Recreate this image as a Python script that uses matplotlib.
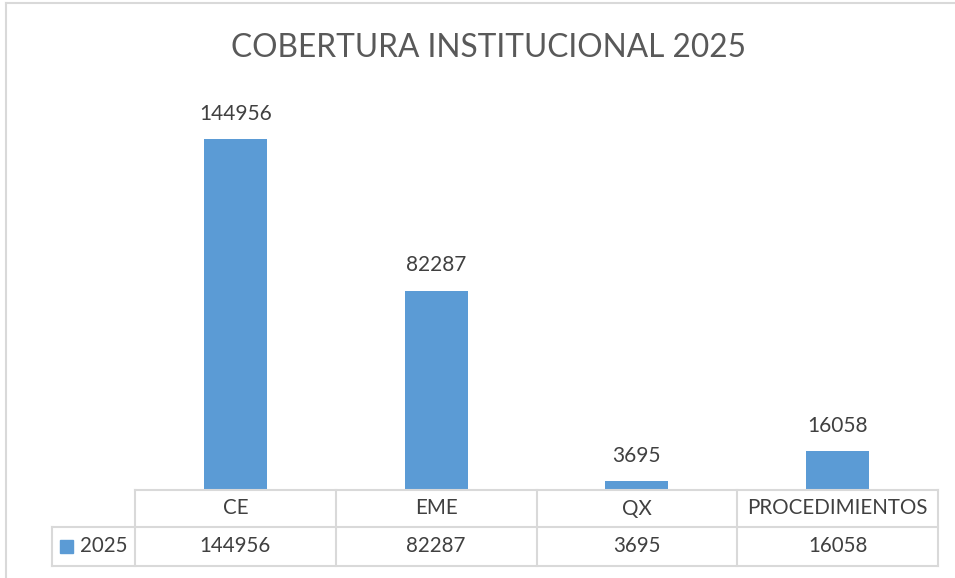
import matplotlib.pyplot as plt
from matplotlib.lines import Line2D
from matplotlib.patches import Rectangle

categories = ["CE", "EME", "QX", "PROCEDIMIENTOS"]
values = [144956, 82287, 3695, 16058]
series_name = "2025"
title = "COBERTURA INSTITUCIONAL 2025"

bar_color = "#5b9bd5"
text_color = "#404040"
grid_color = "#d9d9d9"

plt.rcParams["font.family"] = ["Lato", "DejaVu Sans"]

W, H = 955, 578
fig = plt.figure(figsize=(W / 100, H / 100), dpi=100)

# plot area in pixels: x 135..938, y 102.6..490 (from top)
ax = fig.add_axes([135 / W, 1 - 490 / H, (938 - 135) / W, (490 - 102.6) / H])
ax.set_xlim(-0.5, len(categories) - 0.5)
ax.set_ylim(0, 160000)
xs = range(len(categories))
ax.bar(xs, values, width=0.314, color=bar_color)
for x, v in zip(xs, values):
    ax.annotate(str(v), (x, v), xytext=(0, 11), textcoords="offset points",
                ha="center", va="bottom", fontsize=15, color=text_color)
ax.axis("off")

fig.text(488 / W, 1 - 48 / H, title, ha="center", va="center",
         fontsize=22.8, color="#595959")

# chart border (left and top only visible)
fig.add_artist(Line2D([6 / W, 6 / W], [0, 1 - 3 / H], transform=fig.transFigure,
                      color=grid_color, lw=1.5))
fig.add_artist(Line2D([6 / W, 1], [1 - 3 / H, 1 - 3 / H], transform=fig.transFigure,
                      color=grid_color, lw=1.5))

# data table below the axis
tr = ax.get_xaxis_transform()
ax_h = 490 - 102.6
r1 = -37 / ax_h
r2 = -76 / ax_h
left = -0.5 - 83 / 200.75
n = len(categories)
kw = dict(transform=tr, color=grid_color, lw=1.5, clip_on=False)
ax.add_line(Line2D([-0.5, n - 0.5], [0, 0], **kw))
ax.add_line(Line2D([left, n - 0.5], [r1, r1], **kw))
ax.add_line(Line2D([left, n - 0.5], [r2, r2], **kw))
ax.add_line(Line2D([left, left], [r1, r2], **kw))
for i in range(n + 1):
    ax.add_line(Line2D([i - 0.5, i - 0.5], [0, r2], **kw))
for x, c, v in zip(xs, categories, values):
    ax.text(x, r1 / 2, c, transform=tr, ha="center", va="center",
            fontsize=14.8, color=text_color)
    ax.text(x, (r1 + r2) / 2, str(v), transform=tr, ha="center", va="center",
            fontsize=14.8, color=text_color)
sq = 13 / 200.75
ax.add_patch(Rectangle((-0.5 - 75 / 200.75, (r1 + r2) / 2 - 6.5 / ax_h), sq, 13 / ax_h,
                       transform=tr, color=bar_color, clip_on=False))
ax.text(-0.5 - 55 / 200.75, (r1 + r2) / 2, series_name, transform=tr, ha="left",
        va="center", fontsize=14.8, color=text_color)

fig.savefig("out.png", dpi=100)
